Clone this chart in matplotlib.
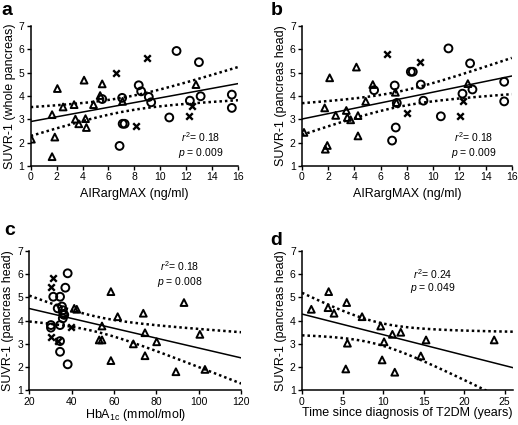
import numpy as np
import matplotlib
matplotlib.use("Agg")
import matplotlib.pyplot as plt

plt.rcParams['font.family'] = ['Liberation Sans', 'DejaVu Sans']
plt.rcParams['mathtext.fontset'] = 'custom'
plt.rcParams['mathtext.rm'] = 'Liberation Sans'
plt.rcParams['mathtext.it'] = 'Liberation Sans:italic'

# --- panel a: AIRargMAX vs SUVR-1 (whole pancreas)
a_tri_x = [0.05, 1.65, 1.86, 1.65, 2.06, 2.5, 3.35, 3.45, 3.71, 4.12, 4.23, 4.3, 4.85, 5.36, 5.52, 7.09, 12.76]
a_tri_y = [2.15, 3.2, 2.24, 1.4, 4.32, 3.53, 3.63, 3.01, 2.81, 4.68, 3.03, 2.65, 3.63, 4.02, 4.52, 3.77, 4.49]
a_cir_x = [5.52, 7.06, 7.1, 7.25, 6.86, 8.34, 8.53, 9.12, 9.3, 11.26, 12.99, 12.29, 13.12, 15.53, 15.53, 10.7]
a_cir_y = [3.87, 3.92, 2.81, 2.81, 1.86, 4.46, 4.2, 3.96, 3.73, 5.93, 5.45, 3.8, 3.99, 4.06, 3.49, 3.08]
a_x_x = [6.62, 8.1, 8.99, 12.22, 12.43]
a_x_y = [4.99, 2.72, 5.61, 3.16, 3.59]

# --- panel b: AIRargMAX vs SUVR-1 (pancreas head)
b_tri_x = [0.15, 1.73, 1.93, 1.78, 2.11, 2.57, 3.38, 3.46, 3.71, 4.15, 4.27, 4.27, 4.86, 5.4, 7.12, 7.2, 12.65]
b_tri_y = [2.44, 3.49, 1.88, 1.72, 4.78, 3.17, 3.38, 3.08, 2.98, 5.24, 3.16, 2.29, 3.77, 4.49, 4.16, 3.72, 4.53]
b_cir_x = [5.5, 7.07, 7.23, 7.15, 6.87, 8.3, 8.45, 11.17, 12.82, 9.06, 9.26, 12.24, 13.0, 15.42, 15.42, 10.59]
b_cir_y = [4.25, 4.45, 3.7, 2.65, 2.09, 5.04, 5.04, 6.04, 5.4, 4.49, 3.8, 4.1, 4.28, 4.61, 3.77, 3.13]
b_x_x = [6.51, 9.01, 7.99, 12.06, 12.31]
b_x_y = [5.81, 5.45, 3.27, 3.13, 3.77]

# --- panel c: HbA1c vs SUVR-1 (pancreas head)
c_tri_x = [41.2, 42.4, 54.3, 53.0, 54.3, 58.5, 58.5, 61.7, 69.1, 73.8, 74.6, 80.1, 74.6, 93.0, 100.5, 89.2, 102.9]
c_tri_y = [4.53, 4.49, 3.77, 3.17, 3.17, 5.25, 2.28, 4.17, 3.0, 4.32, 3.48, 3.09, 2.49, 4.78, 3.41, 1.8, 1.9]
c_cir_x = [38.1, 37.0, 31.3, 34.5, 33.4, 35.4, 35.8, 36.0, 36.5, 35.8, 30.2, 30.2, 34.5, 34.5, 34.5, 38.1]
c_cir_y = [6.04, 5.42, 5.03, 5.03, 4.53, 4.61, 4.45, 4.28, 4.25, 4.1, 3.81, 3.7, 3.81, 3.12, 2.66, 2.12]
c_x_x = [31.3, 30.2, 30.2, 33.4, 39.7]
c_x_y = [5.83, 5.47, 3.31, 3.13, 3.74]

# --- panel d: years since T2DM diagnosis vs SUVR-1 (pancreas head)
d_years = [1.15, 3.29, 3.21, 3.95, 5.51, 5.6, 5.4, 7.41, 9.71, 10.12, 9.88, 11.15, 11.44, 12.18, 15.3, 14.65, 23.7]
d_suvr = [4.49, 5.25, 4.56, 4.32, 4.78, 3.03, 1.92, 4.17, 3.77, 3.09, 2.31, 3.41, 1.78, 3.5, 3.17, 2.48, 3.17]

stats_text = [("0.18", "0.009"), ("0.18", "0.009"), ("0.18", "0.008"), ("0.24", "0.049")]

T_CRIT = {15: 2.131, 36: 2.028}


def fit_band(x, y, xs):
    x = np.asarray(x); y = np.asarray(y)
    n = len(x)
    slope, icpt = np.polyfit(x, y, 1)
    res = y - (icpt + slope * x)
    s = np.sqrt(np.sum(res ** 2) / (n - 2))
    se = s * np.sqrt(1 / n + (xs - x.mean()) ** 2 / np.sum((x - x.mean()) ** 2))
    t = T_CRIT.get(n - 2, 2.03)
    fit = icpt + slope * xs
    return fit, fit - t * se, fit + t * se


fig = plt.figure(figsize=(5.18, 4.25), dpi=100)
axs = [fig.add_axes([0.0593, 0.6094, 0.400, 0.3294]),
       fig.add_axes([0.583, 0.6094, 0.405, 0.3294]),
       fig.add_axes([0.0566, 0.0816, 0.409, 0.3278]),
       fig.add_axes([0.583, 0.0816, 0.407, 0.3278])]

tri = dict(marker='^', s=24, facecolors='none', edgecolors='black', linewidths=1.4, zorder=3)
cir = dict(marker='o', s=32, facecolors='none', edgecolors='black', linewidths=1.4, zorder=3)
crs = dict(marker='x', s=22, color='black', linewidths=1.7, zorder=3)

panels = [
    (a_tri_x, a_tri_y, a_cir_x, a_cir_y, a_x_x, a_x_y),
    (b_tri_x, b_tri_y, b_cir_x, b_cir_y, b_x_x, b_x_y),
    (c_tri_x, c_tri_y, c_cir_x, c_cir_y, c_x_x, c_x_y),
]
xlims = [(0, 16), (0, 16), (20, 120), (0, 26)]
xticks = [range(0, 17, 2), range(0, 17, 2), range(20, 121, 20), range(0, 26, 5)]
ylabels = ['SUVR-1 (whole pancreas)', 'SUVR-1 (pancreas head)',
           'SUVR-1 (pancreas head)', 'SUVR-1 (pancreas head)']
xlabels = ['AIRargMAX (ng/ml)', 'AIRargMAX (ng/ml)', r'HbA$_\mathrm{1c}$ (mmol/mol)',
           'Time since diagnosis of T2DM (years)']
xlabelpads = [4, 4, 0.5, 0.5]
text_pos = [(13.1, 2.26, 1.55), (13.1, 2.26, 1.55), (91, 6.33, 5.67), (16.1, 5.99, 5.42)]

for i, ax in enumerate(axs):
    if i < 3:
        tx, ty, cx, cy, xx, xy = panels[i]
        ax.scatter(tx, ty, **tri)
        ax.scatter(cx, cy, **cir)
        ax.scatter(xx, xy, **crs)
        allx = tx + cx + xx
        ally = ty + cy + xy
    else:
        ax.scatter(d_years, d_suvr, **tri)
        allx, ally = d_years, d_suvr
    xs = np.linspace(xlims[i][0], xlims[i][1], 200)
    fit, lo, hi = fit_band(allx, ally, xs)
    ax.plot(xs, fit, color='black', lw=1.1, zorder=2)
    ax.plot(xs, lo, color='black', lw=1.8, ls=(0, (1, 1.2)), zorder=2)
    ax.plot(xs, hi, color='black', lw=1.8, ls=(0, (1, 1.2)), zorder=2)

    ax.set_xlim(*xlims[i])
    ax.set_ylim(1, 7)
    ax.set_xticks(list(xticks[i]))
    ax.set_yticks(range(1, 8))
    for sp in ['top', 'right']:
        ax.spines[sp].set_visible(False)
    for sp in ['left', 'bottom']:
        ax.spines[sp].set_linewidth(1.1)
    ax.tick_params(direction='out', length=3, width=1, labelsize=7.5, pad=1.5)
    ax.set_ylabel(ylabels[i], fontsize=9, labelpad=2)
    ax.set_xlabel(xlabels[i], fontsize=9, labelpad=xlabelpads[i])

    r2, p = stats_text[i]
    px, ry, py = text_pos[i]
    ax.text(px, ry, r'$r^2$= ' + r2, ha='center', va='center', fontsize=7.5)
    ax.text(px, py, r'$p$ = ' + p, ha='center', va='center', fontsize=7.5)

for lab, (x, y) in zip('abcd', [(0.003, 0.995), (0.522, 0.995), (0.008, 0.478), (0.522, 0.455)]):
    fig.text(x, y, lab, fontsize=14, fontweight='bold', ha='left', va='top')

fig.savefig('out.png', dpi=100)
